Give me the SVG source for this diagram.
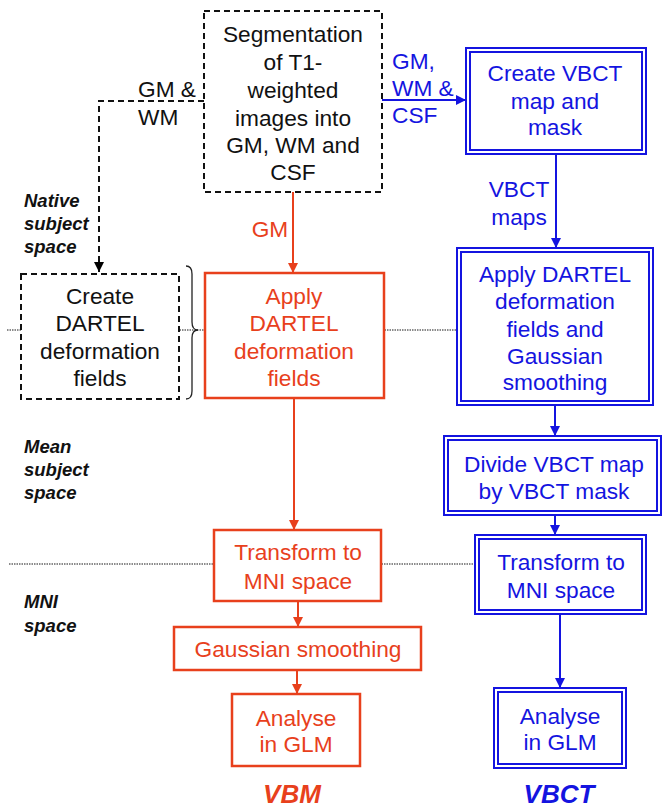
<svg xmlns="http://www.w3.org/2000/svg" width="663" height="808" viewBox="0 0 663 808">
<defs>
<marker id="ar" viewBox="0 0 10 10" refX="10" refY="5" markerWidth="10" markerHeight="10" markerUnits="userSpaceOnUse" orient="auto"><path d="M0,0 L10,5 L0,10 z" fill="#E8401C"/></marker>
<marker id="ab" viewBox="0 0 10 10" refX="10" refY="5" markerWidth="10" markerHeight="10" markerUnits="userSpaceOnUse" orient="auto"><path d="M0,0 L10,5 L0,10 z" fill="#1414E0"/></marker>
<marker id="ak" viewBox="0 0 10 10" refX="10" refY="5" markerWidth="10" markerHeight="10" markerUnits="userSpaceOnUse" orient="auto"><path d="M0,0 L10,5 L0,10 z" fill="#000"/></marker>
</defs>
<style>
text{font-family:"Liberation Sans",Arial,sans-serif;font-size:22.7px;text-anchor:middle}
.k{fill:#111}
.r{fill:#E8401C}
.b{fill:#1414E0}
.lab{font-size:18.5px;font-weight:bold;font-style:italic;text-anchor:start;fill:#111}
.big{font-size:26px;font-weight:bold;font-style:italic}
.dash{fill:#fff;stroke:#111;stroke-width:2;stroke-dasharray:6 4}
.rb{fill:#fff;stroke:#E8401C;stroke-width:2.5}
.bo{fill:#fff;stroke:#1414E0;stroke-width:2}
.bi{fill:none;stroke:#1414E0;stroke-width:2}
.dot{stroke:#666;stroke-width:1.3;stroke-dasharray:1.5 1}
.cr{stroke:#E8401C;stroke-width:2;fill:none}
.cb{stroke:#1414E0;stroke-width:2;fill:none}
.ck{stroke:#111;stroke-width:2;fill:none;stroke-dasharray:6 4}
</style>
<g id="guides">
<line class="dot" x1="7" y1="330" x2="457" y2="330"/>
<line class="dot" x1="9" y1="564" x2="475" y2="564"/>
<path d="M186,266 Q192,266 192,274 L192,322 Q192,330 198,330 Q192,330 192,338 L192,391 Q192,399 186,399" fill="none" stroke="#222" stroke-width="1.3"/>
</g>
<g id="labels">
<text class="lab" x="24" y="207">Native</text>
<text class="lab" x="24" y="230">subject</text>
<text class="lab" x="24" y="253">space</text>
<text class="lab" x="24" y="453">Mean</text>
<text class="lab" x="24" y="476">subject</text>
<text class="lab" x="24" y="499">space</text>
<text class="lab" x="24" y="608">MNI</text>
<text class="lab" x="24" y="632">space</text>
<text class="big r" x="292" y="803">VBM</text>
<text class="big b" x="559" y="803">VBCT</text>
</g>
<g id="connectors">
<path class="ck" d="M204,101 L99,101 L99,272" marker-end="url(#ak)"/>
<text class="k" x="138" y="97" style="text-anchor:start">GM &amp;</text>
<text class="k" x="138" y="125" style="text-anchor:start">WM</text>
<line class="cr" x1="293" y1="192" x2="293" y2="273" marker-end="url(#ar)"/>
<text class="r" x="270" y="237">GM</text>
<line class="cr" x1="294" y1="398" x2="294" y2="530" marker-end="url(#ar)"/>
<line class="cr" x1="298" y1="601" x2="298" y2="627" marker-end="url(#ar)"/>
<line class="cr" x1="297" y1="670" x2="297" y2="694" marker-end="url(#ar)"/>
<line class="cb" x1="381" y1="100" x2="466" y2="100" marker-end="url(#ab)"/>
<text class="b" x="392" y="69" style="text-anchor:start">GM,</text>
<text class="b" x="392" y="96" style="text-anchor:start">WM &amp;</text>
<text class="b" x="392" y="123" style="text-anchor:start">CSF</text>
<line class="cb" x1="556" y1="154" x2="556" y2="248" marker-end="url(#ab)"/>
<text class="b" x="519" y="197">VBCT</text>
<text class="b" x="519" y="225">maps</text>
<line class="cb" x1="555" y1="405" x2="555" y2="436" marker-end="url(#ab)"/>
<line class="cb" x1="555" y1="515" x2="555" y2="535" marker-end="url(#ab)"/>
<line class="cb" x1="560" y1="614" x2="560" y2="688" marker-end="url(#ab)"/>
</g>
<g id="seg">
<rect class="dash" x="204" y="11" width="178" height="181"/>
<text class="k" x="293" y="42">Segmentation</text>
<text class="k" x="293" y="70">of T1-</text>
<text class="k" x="293" y="98">weighted</text>
<text class="k" x="293" y="126">images into</text>
<text class="k" x="293" y="153">GM, WM and</text>
<text class="k" x="293" y="180">CSF</text>
</g>
<g id="dartel-create">
<rect class="dash" x="21" y="274" width="158" height="125"/>
<text class="k" x="100" y="304">Create</text>
<text class="k" x="100" y="331">DARTEL</text>
<text class="k" x="100" y="359">deformation</text>
<text class="k" x="100" y="386">fields</text>
</g>
<g id="vbm-apply">
<rect class="rb" x="205" y="273" width="179" height="125"/>
<text class="r" x="294" y="304">Apply</text>
<text class="r" x="294" y="331">DARTEL</text>
<text class="r" x="294" y="359">deformation</text>
<text class="r" x="294" y="386">fields</text>
</g>
<g id="vbm-transform">
<rect class="rb" x="214" y="530" width="167" height="71"/>
<text class="r" x="298" y="560">Transform to</text>
<text class="r" x="298" y="589">MNI space</text>
</g>
<g id="vbm-smooth">
<rect class="rb" x="174" y="627" width="247" height="43"/>
<text class="r" x="298" y="657">Gaussian smoothing</text>
</g>
<g id="vbm-glm">
<rect class="rb" x="232" y="694" width="128" height="72"/>
<text class="r" x="296" y="726">Analyse</text>
<text class="r" x="296" y="752">in GLM</text>
</g>
<g id="vbct-create">
<rect class="bo" x="466" y="48" width="180" height="106"/>
<rect class="bi" x="470" y="52" width="172" height="98"/>
<text class="b" x="555" y="81">Create VBCT</text>
<text class="b" x="555" y="109">map and</text>
<text class="b" x="555" y="135">mask</text>
</g>
<g id="vbct-apply">
<rect class="bo" x="457" y="248" width="196" height="157"/>
<rect class="bi" x="461" y="252" width="188" height="149"/>
<text class="b" x="555" y="282">Apply DARTEL</text>
<text class="b" x="555" y="309">deformation</text>
<text class="b" x="555" y="337">fields and</text>
<text class="b" x="555" y="364">Gaussian</text>
<text class="b" x="555" y="390">smoothing</text>
</g>
<g id="vbct-divide">
<rect class="bo" x="444" y="436" width="217" height="79"/>
<rect class="bi" x="448" y="440" width="209" height="71"/>
<text class="b" x="554" y="472">Divide VBCT map</text>
<text class="b" x="554" y="499">by VBCT mask</text>
</g>
<g id="vbct-transform">
<rect class="bo" x="475" y="535" width="171" height="79"/>
<rect class="bi" x="479" y="539" width="163" height="71"/>
<text class="b" x="561" y="570">Transform to</text>
<text class="b" x="561" y="598">MNI space</text>
</g>
<g id="vbct-glm">
<rect class="bo" x="494" y="688" width="132" height="80"/>
<rect class="bi" x="498" y="692" width="124" height="72"/>
<text class="b" x="560" y="724">Analyse</text>
<text class="b" x="560" y="750">in GLM</text>
</g>
</svg>
